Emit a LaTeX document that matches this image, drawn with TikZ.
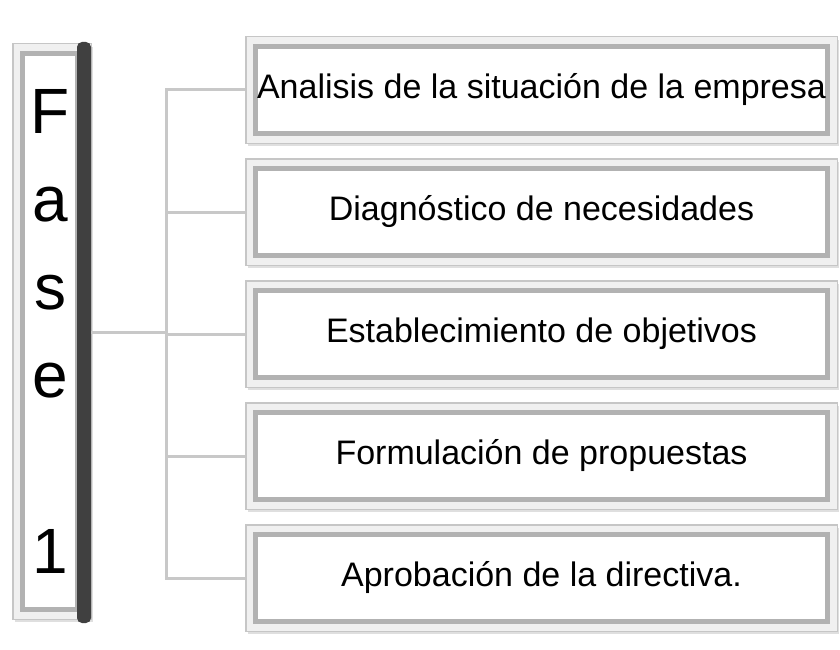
\documentclass[tikz,border=0pt]{standalone}
\usepackage{fontspec}
\setmainfont{Liberation Sans}
\usetikzlibrary{positioning,shadows,calc}
\definecolor{conngray}{RGB}{200,200,200}
\definecolor{bargray}{RGB}{64,64,64}

\begin{document}
\begin{tikzpicture}[x=1pt, y=-1pt,
  marco/.style={draw=gray!45, line width=1.5pt, fill=gray!12,
                minimum width=591.5pt, minimum height=106.5pt,
                drop shadow={shadow xshift=2pt, shadow yshift=-3pt, opacity=0.25}},
  tema/.style={draw=gray!60, line width=5pt, fill=white, inner sep=0pt,
               minimum width=572pt, minimum height=87pt,
               font=\fontsize{34}{40}\selectfont},
  fasemarco/.style={draw=gray!45, line width=1.5pt, fill=gray!12,
                    minimum width=78.5pt, minimum height=575.5pt,
                    drop shadow={shadow xshift=2pt, shadow yshift=-3pt, opacity=0.25}},
  fasetxt/.style={draw=gray!60, line width=5pt, fill=white, inner sep=0pt,
                  minimum width=55pt, minimum height=556pt, align=center,
                  font=\fontsize{64}{88}\selectfont},
  barra/.style={fill=bargray, rounded corners=5pt,
                minimum width=14pt, minimum height=581pt},
  conn/.style={draw=conngray, line width=3pt}
]
  \useasboundingbox (0,0) rectangle (840,650);

  % phase column
  \node[fasemarco] (fm) at (52,331.5) {};
  \node[fasetxt] (fase) at (50,331.5) {F\\a\\s\\e\\[88pt]1};
  \node[barra] (bar) at (84,332.5) {};

  % activity boxes
  \node[marco] (f1) at (541.5,90) {};
  \node[marco, below=14pt of f1] (f2) {};
  \node[marco, below=14pt of f2] (f3) {};
  \node[marco, below=14pt of f3] (f4) {};
  \node[marco, below=14pt of f4] (f5) {};
  \node[tema] (t1) at (f1) {Analisis de la situación de la empresa};
  \node[tema] (t2) at (f2) {Diagnóstico de necesidades};
  \node[tema] (t3) at (f3) {Establecimiento de objetivos};
  \node[tema] (t4) at (f4) {Formulación de propuestas};
  \node[tema] (t5) at (f5) {Aprobación de la directiva.};

  % connectors
  \coordinate[right=75pt of bar] (hub);
  \draw[conn] (bar) -- (hub);
  \foreach \i in {1,...,5}
    \draw[conn] (f\i.west) -| (hub);
\end{tikzpicture}
\end{document}
